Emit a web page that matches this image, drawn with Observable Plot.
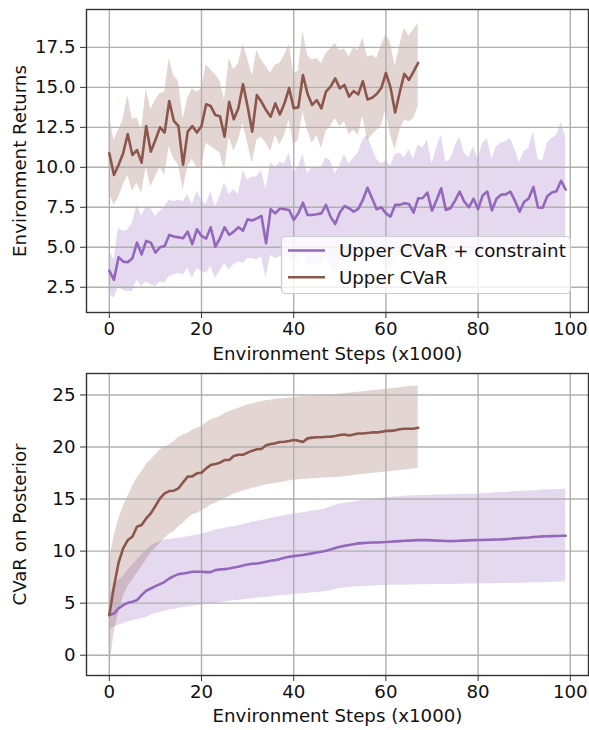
<!DOCTYPE html>
<html>
<head>
<meta charset="utf-8">
<script src="https://cdn.jsdelivr.net/npm/d3@7"></script>
<script src="https://cdn.jsdelivr.net/npm/@observablehq/plot@0.6"></script>
<style>
  html, body { margin: 0; padding: 0; background: #fff; }
  #chart { width: 589px; height: 730px; }
  #chart svg { display: block; }
</style>
</head>
<body>
<div id="chart"></div>
<script>
// ---------- tick labels ----------
const xTicks = [0, 20, 40, 60, 80, 100];
const topYTicks = [2.5, 5.0, 7.5, 10.0, 12.5, 15.0, 17.5];
const bottomYTicks = [0, 5, 10, 15, 20, 25];

// ---------- series names ----------
const seriesNames = ["Upper CVaR + constraint", "Upper CVaR"];
const seriesColors = ["#9467bd", "#8c564b"];

// ---------- top panel: Environment Returns ----------
const topConstraintMean = [3.54,2.96,4.38,4.10,4.06,4.31,5.29,4.56,5.40,5.29,4.67,5.00,5.08,5.77,5.67,5.62,5.56,5.98,5.19,6.12,5.71,5.54,6.25,5.04,5.56,6.25,5.77,5.98,6.25,6.04,6.75,6.67,6.81,6.96,5.25,7.38,7.12,7.42,7.38,7.33,6.71,7.12,7.79,7.02,7.02,7.06,7.12,7.65,6.90,6.46,7.18,7.58,7.44,7.23,7.40,7.96,8.72,8.06,7.38,7.50,7.12,6.92,7.65,7.65,7.75,7.71,7.17,8.06,8.08,8.42,7.29,7.96,8.69,7.33,7.44,7.92,8.48,7.85,7.50,8.03,7.38,8.24,8.48,7.31,8.03,8.29,8.31,8.48,7.90,7.22,7.85,8.06,8.77,7.49,7.47,8.19,8.42,8.51,9.16,8.60];
const topConstraintUpper = [4.83,4.21,6.19,5.98,6.08,6.50,7.65,6.92,7.54,7.44,6.92,7.23,7.54,7.96,7.85,7.96,7.85,8.27,7.65,8.48,7.96,7.65,8.48,7.54,8.17,9.00,8.30,8.60,8.30,9.80,9.20,9.40,9.40,9.80,8.60,10.3,10.0,10.3,10.2,10.9,9.6,10.0,10.8,9.6,10.0,9.9,10.0,10.6,10.4,9.6,10.1,10.8,10.2,10.6,10.9,11.7,12.0,11.2,10.5,10.2,10.4,10.1,10.8,10.9,10.6,11.1,10.5,11.4,11.2,11.7,10.2,11.2,12.0,10.3,10.5,11.3,11.9,10.9,10.6,11.3,10.5,11.5,11.8,10.5,11.3,11.5,11.6,11.8,11.1,10.3,11.0,11.2,12.2,10.5,10.4,11.5,11.8,12.0,12.8,11.9];
const topConstraintLower = [2.08,1.81,2.54,2.29,2.23,2.23,2.96,2.54,2.85,2.65,2.54,2.85,2.75,3.17,3.27,3.38,3.27,3.69,3.06,3.69,3.48,3.38,3.79,3.06,3.48,4.00,3.58,3.90,4.10,4.00,4.30,4.30,4.20,4.40,3.10,4.50,4.30,4.40,4.40,4.40,3.90,4.30,4.60,3.90,3.80,3.90,4.00,4.50,3.70,3.30,4.00,4.40,4.30,4.00,4.20,4.80,5.40,4.90,4.20,4.30,3.90,3.70,4.50,4.40,4.60,4.50,4.00,4.90,4.90,5.20,4.10,4.80,5.40,4.10,4.30,4.70,5.30,4.60,4.30,4.80,4.20,5.00,5.30,4.10,4.80,5.10,5.10,5.30,4.70,4.00,4.60,4.90,5.40,4.30,4.30,5.00,5.20,5.30,5.40,5.30];

const topCvarMean = [10.88,9.52,10.15,10.88,12.08,10.77,11.08,10.29,12.58,10.98,11.71,12.50,12.17,14.15,12.90,12.58,10.15,12.23,12.58,12.17,12.58,13.94,13.83,13.27,13.20,11.92,14.10,13.00,13.69,15.20,13.80,12.23,14.52,14.10,13.58,13.17,14.00,13.31,14.00,14.95,13.69,13.75,15.77,14.60,13.90,14.20,13.69,14.73,15.04,15.56,14.94,15.15,14.42,14.77,14.56,15.38,14.24,14.35,14.58,14.96,15.90,15.00,13.43,14.70,15.84,15.47,15.99,16.53];
const topCvarUpper = [13.2,11.7,12.3,13.0,14.5,13.0,13.1,12.3,14.9,13.6,14.2,14.6,14.7,16.8,15.7,15.4,13.0,14.3,14.9,14.7,14.9,16.4,16.1,15.8,15.4,14.2,16.8,16.1,16.5,17.7,16.8,15.7,17.3,16.7,16.3,15.9,16.4,16.5,17.0,17.7,15.9,16.0,18.5,17.0,16.7,16.8,16.5,17.1,17.4,17.75,17.3,17.4,16.9,17.5,17.3,18.1,16.9,17.0,16.8,17.6,18.3,17.8,16.3,17.6,18.7,18.2,18.6,19.0];
const topCvarLower = [8.4,7.65,8.1,8.9,9.5,8.5,9.0,8.4,10.0,8.8,9.4,10.0,9.5,11.3,10.5,10.15,8.6,10.0,10.5,10.0,10.0,11.5,11.3,11.1,10.9,9.8,11.9,11.0,11.7,12.75,11.5,10.25,11.7,11.9,11.5,11.0,12.0,11.4,12.0,12.96,11.4,11.7,13.5,12.3,11.5,12.0,11.2,12.25,12.55,13.06,12.55,12.85,12.05,12.3,12.0,13.2,11.7,12.0,12.3,12.6,13.6,12.0,11.1,12.3,12.96,12.85,13.06,13.8];

// ---------- bottom panel: CVaR on Posterior ----------
const bottomConstraintMean = [3.85,4.00,4.49,4.81,5.03,5.13,5.29,5.77,6.19,6.41,6.63,6.83,7.05,7.37,7.60,7.79,7.85,7.92,8.01,8.01,8.01,7.98,7.98,8.17,8.24,8.27,8.33,8.43,8.49,8.62,8.72,8.78,8.81,8.88,8.97,9.07,9.13,9.23,9.36,9.46,9.52,9.58,9.62,9.71,9.78,9.87,9.94,10.03,10.16,10.30,10.42,10.50,10.58,10.66,10.74,10.77,10.80,10.82,10.83,10.85,10.87,10.90,10.93,10.96,10.99,11.01,11.03,11.05,11.06,11.05,11.03,11.01,10.99,10.97,10.96,10.97,10.99,11.01,11.03,11.05,11.06,11.07,11.09,11.10,11.12,11.13,11.15,11.18,11.22,11.25,11.28,11.31,11.35,11.38,11.41,11.43,11.44,11.45,11.47,11.47];
const bottomConstraintUpper = [5.60,6.73,7.20,7.53,8.17,8.65,9.13,9.62,10.10,10.48,10.74,10.90,11.06,11.12,11.19,11.22,11.31,11.38,11.44,11.54,11.63,11.76,11.86,12.02,12.12,12.18,12.28,12.34,12.44,12.56,12.66,12.76,12.85,12.95,13.04,13.14,13.24,13.30,13.40,13.46,13.56,13.62,13.69,13.75,13.85,13.91,13.97,14.07,14.25,14.40,14.52,14.58,14.65,14.72,14.80,14.85,14.90,14.97,15.03,15.08,15.13,15.17,15.20,15.23,15.27,15.30,15.31,15.32,15.34,15.35,15.37,15.38,15.38,15.39,15.41,15.42,15.44,15.45,15.46,15.47,15.49,15.51,15.54,15.57,15.60,15.62,15.64,15.67,15.70,15.73,15.76,15.78,15.80,15.83,15.86,15.87,15.89,15.90,15.92,15.93];
const bottomConstraintLower = [2.40,2.72,2.88,3.04,3.20,3.30,3.37,3.53,3.62,3.85,4.00,4.10,4.23,4.33,4.39,4.49,4.58,4.65,4.71,4.78,4.81,4.87,4.90,4.97,5.03,5.10,5.16,5.22,5.26,5.32,5.38,5.42,5.48,5.51,5.54,5.61,5.67,5.70,5.74,5.77,5.83,5.87,5.90,5.93,5.99,6.03,6.06,6.12,6.18,6.30,6.40,6.45,6.50,6.54,6.57,6.60,6.63,6.65,6.67,6.69,6.70,6.71,6.72,6.73,6.73,6.74,6.75,6.76,6.76,6.77,6.78,6.79,6.79,6.80,6.80,6.80,6.81,6.82,6.83,6.84,6.85,6.86,6.86,6.87,6.88,6.89,6.89,6.90,6.91,6.92,6.92,6.93,6.95,6.96,6.97,6.99,7.00,7.01,7.02,7.02];

const bottomCvarMean = [3.85,6.57,8.88,10.26,11.06,11.38,12.34,12.50,13.14,13.62,14.33,15.06,15.54,15.77,15.80,16.03,16.60,17.15,17.18,17.47,17.53,17.95,18.27,18.37,18.49,18.75,18.75,19.13,19.26,19.26,19.46,19.65,19.78,19.81,20.16,20.29,20.35,20.48,20.51,20.58,20.67,20.61,20.48,20.83,20.90,20.93,20.93,20.99,21.00,21.05,21.15,21.20,21.10,21.20,21.30,21.30,21.35,21.40,21.40,21.45,21.55,21.55,21.60,21.70,21.75,21.75,21.75,21.85];
const bottomCvarUpper = [9.0,11.4,13.0,14.26,15.2,16.2,17.0,17.6,18.3,18.75,19.23,19.7,20.0,20.2,20.5,20.9,21.15,21.3,21.6,21.8,21.95,22.3,22.6,22.76,22.9,23.2,23.4,23.56,23.7,23.9,24.04,24.13,24.26,24.36,24.45,24.5,24.6,24.6,24.65,24.7,24.7,24.8,24.84,24.84,24.9,24.94,24.94,24.97,25.0,25.05,25.1,25.13,25.16,25.2,25.25,25.3,25.35,25.4,25.45,25.5,25.55,25.6,25.65,25.7,25.75,25.8,25.84,25.87];
const bottomCvarLower = [-1.6,2.1,4.0,5.6,6.57,7.2,7.85,8.5,9.13,9.78,10.26,10.74,11.2,11.63,11.86,12.34,12.66,13.14,13.46,13.62,13.88,14.1,14.42,14.58,14.84,15.06,15.22,15.48,15.6,15.77,15.87,16.03,16.12,16.25,16.35,16.44,16.5,16.57,16.63,16.73,16.83,16.83,16.89,16.89,16.96,16.96,17.02,17.02,17.05,17.08,17.1,17.15,17.2,17.25,17.3,17.35,17.4,17.45,17.5,17.55,17.6,17.65,17.7,17.75,17.8,17.85,17.9,17.95];

// ---------- build tables ----------
function table(mean, lo, hi) {
  return mean.map((m, i) => ({step: i, mean: m, lo: lo[i], hi: hi[i]}));
}
const topA = table(topConstraintMean, topConstraintLower, topConstraintUpper);
const topB = table(topCvarMean, topCvarLower, topCvarUpper);
const botA = table(bottomConstraintMean, bottomConstraintLower, bottomConstraintUpper);
const botB = table(bottomCvarMean, bottomCvarLower, bottomCvarUpper);

const FONT = 18.2;
const gridStyle = {stroke: "#b0b0b0", strokeOpacity: 1, strokeWidth: 1.4};

function panel({A, B, yDomain, yTicks, yFormat, yLabel, height, marginTop, marginBottom, xLabelDy}) {
  return Plot.plot({
    width: 589,
    height,
    marginLeft: 86,
    marginRight: 1,
    marginTop,
    marginBottom,
    style: {fontFamily: "DejaVu Sans", fontSize: FONT + "px", color: "#111", background: "#fff"},
    x: {domain: [-4.95, 103.95]},
    y: {domain: yDomain},
    marks: [
      Plot.areaY(A, {x: "step", y1: "lo", y2: "hi", fill: seriesColors[0], fillOpacity: 0.25}),
      Plot.areaY(B, {x: "step", y1: "lo", y2: "hi", fill: seriesColors[1], fillOpacity: 0.25}),
      Plot.gridX({ticks: xTicks, ...gridStyle}),
      Plot.gridY({ticks: yTicks, ...gridStyle}),
      Plot.lineY(A, {x: "step", y: "mean", stroke: seriesColors[0], strokeWidth: 2.6}),
      Plot.lineY(B, {x: "step", y: "mean", stroke: seriesColors[1], strokeWidth: 2.6}),
      Plot.frame({stroke: "#333", strokeWidth: 1.4}),
      Plot.axisX({ticks: xTicks, tickSize: 6, tickPadding: 4, label: null, stroke: "#333"}),
      Plot.axisY({ticks: yTicks, tickSize: 6, tickPadding: 5, tickFormat: yFormat, label: null, stroke: "#333"}),
      Plot.text(["Environment Steps (x1000)"], {frameAnchor: "bottom", dy: xLabelDy, lineAnchor: "middle", textAnchor: "middle", fontSize: FONT, fill: "#111"}),
      Plot.text([yLabel], {frameAnchor: "left", dx: -66, rotate: -90, textAnchor: "middle", lineAnchor: "middle", fontSize: FONT, fill: "#111"})
    ]
  });
}

const topPlot = panel({
  A: topA, B: topB,
  yDomain: [0.92, 19.87], yTicks: topYTicks, yFormat: d3.format(".1f"),
  yLabel: "Environment Returns",
  height: 365, marginTop: 9, marginBottom: 53, xLabelDy: 42
});

const bottomPlot = panel({
  A: botA, B: botB,
  yDomain: [-1.95, 27.06], yTicks: bottomYTicks, yFormat: d3.format("d"),
  yLabel: "CVaR on Posterior",
  height: 365, marginTop: 8, marginBottom: 55, xLabelDy: 41
});

// ---------- legend (top panel, lower right) ----------
{
  const svg = d3.select(topPlot);
  const g = svg.append("g")
    .attr("font-family", "DejaVu Sans")
    .attr("font-size", FONT)
    .attr("text-anchor", "start");
  const lx = 281, ly = 236, lw = 289, lh = 57;
  g.append("rect").attr("x", lx + 0.5).attr("y", ly + 0.5).attr("width", lw).attr("height", lh)
    .attr("rx", 4).attr("fill", "#fff").attr("fill-opacity", 0.8).attr("stroke", "#cccccc").attr("stroke-width", 1.2);
  seriesNames.forEach((name, i) => {
    const cy = ly + 14.5 + i * 26.7;
    g.append("line").attr("x1", lx + 7).attr("x2", lx + 44).attr("y1", cy).attr("y2", cy)
      .attr("stroke", seriesColors[i]).attr("stroke-width", 2.6);
    g.append("text").attr("x", lx + 58).attr("y", cy).attr("dy", "0.35em")
      .attr("text-anchor", "start").attr("fill", "#111").text(name);
  });
}

const chart = document.getElementById("chart");
chart.append(topPlot, bottomPlot);
</script>
</body>
</html>
